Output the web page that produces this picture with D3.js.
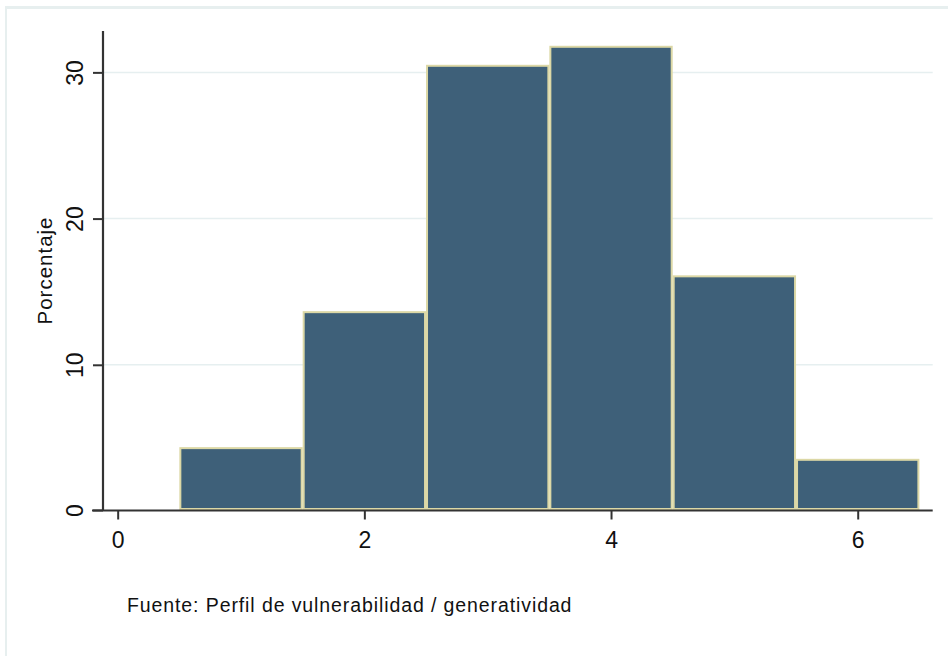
<!DOCTYPE html>
<html>
<head>
<meta charset="utf-8">
<script src="https://cdn.jsdelivr.net/npm/d3@7"></script>
<style>
  html, body { margin: 0; padding: 0; background: #ffffff; }
  svg { display: block; font-family: "Liberation Sans", Arial, sans-serif; }
</style>
</head>
<body>
<svg id="chart" width="948" height="656"></svg>
<script>
// ---- Data ----
const binCenters = [1, 2, 3, 4, 5, 6];
const percentages = [4.3, 13.6, 30.45, 31.75, 16.05, 3.5];
const binWidth = 1;
const xTicks = [0, 2, 4, 6];
const yTicks = [0, 10, 20, 30];
const yTitle = "Porcentaje";
const note = "Fuente: Perfil de vulnerabilidad / generatividad";

const svg = d3.select("#chart");

// outer frame (light)
svg.append("rect").attr("x", 5).attr("y", 6).attr("width", 943).attr("height", 3).attr("fill", "#e7efef");
svg.append("rect").attr("x", 5).attr("y", 6).attr("width", 2).attr("height", 650).attr("fill", "#e7efef");

const x = d3.scaleLinear().domain([-0.119, 6.608]).range([103, 932.7]);
const y = d3.scaleLinear().domain([0, 32.83]).range([511, 31]);

// gridlines
svg.append("g").selectAll("line").data(yTicks.filter(d => d > 0)).join("line")
  .attr("x1", 104).attr("x2", 932.7)
  .attr("y1", d => y(d)).attr("y2", d => y(d))
  .attr("stroke", "#e6eff0").attr("stroke-width", 1.5);

// bars
svg.append("g").selectAll("rect").data(binCenters).join("rect")
  .attr("x", (d) => x(d - binWidth / 2) + 1)
  .attr("width", (d) => x(d + binWidth / 2) - x(d - binWidth / 2) - 2)
  .attr("y", (d, i) => y(percentages[i]))
  .attr("height", (d, i) => y(0) - 2 - y(percentages[i]))
  .attr("fill", "#3e6079")
  .attr("stroke", "#dcd8a6")
  .attr("stroke-width", 2);

// y axis
const yAxis = svg.append("g").attr("transform", "translate(103,0)")
  .call(d3.axisLeft(y).tickValues(yTicks).tickFormat(d3.format("d")).tickSize(10).tickPadding(10).tickSizeOuter(0));
yAxis.select(".domain").attr("stroke", "#333").attr("stroke-width", 2.2)
  .attr("d", "M0,31V510.5");
yAxis.selectAll(".tick line").attr("stroke", "#333").attr("stroke-width", 2);
yAxis.selectAll(".tick").filter(d => d === 0).attr("transform", "translate(0,510.5)");
yAxis.selectAll(".tick text")
  .attr("font-size", 23).attr("fill", "#111")
  .attr("font-family", "Liberation Sans, Arial, sans-serif")
  .attr("transform", "rotate(-90)")
  .attr("x", 0).attr("y", -20)
  .attr("dy", 0)
  .attr("text-anchor", "middle");

// x axis
const xAxis = svg.append("g").attr("transform", "translate(0,510.5)")
  .call(d3.axisBottom(x).tickValues(xTicks).tickFormat(d3.format("d")).tickSize(9).tickPadding(10).tickSizeOuter(0));
xAxis.select(".domain").attr("stroke", "#333").attr("stroke-width", 2.2)
  .attr("d", "M92,0H932.7");
xAxis.selectAll(".tick line").attr("stroke", "#333").attr("stroke-width", 2);
xAxis.selectAll(".tick text")
  .attr("font-size", 23).attr("fill", "#111")
  .attr("font-family", "Liberation Sans, Arial, sans-serif")
  .attr("dy", 0).attr("y", 37);

// y title
svg.append("text")
  .attr("transform", `translate(52,${(31 + 510) / 2}) rotate(-90)`)
  .attr("text-anchor", "middle")
  .attr("font-size", 20.5)
  .attr("letter-spacing", 1)
  .attr("fill", "#111")
  .text(yTitle);

// note
svg.append("text")
  .attr("x", 127).attr("y", 612)
  .attr("font-size", 19.5)
  .attr("letter-spacing", 0.9)
  .attr("fill", "#111")
  .text(note);
</script>
</body>
</html>
